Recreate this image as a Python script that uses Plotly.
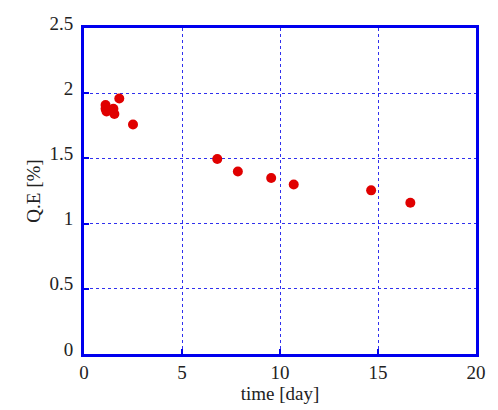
import plotly.graph_objects as go

time_day = [1.1, 1.1, 1.15, 1.5, 1.55, 1.8, 2.5, 6.8, 7.85, 9.55, 10.7, 14.65, 16.65]
qe_pct = [1.91, 1.88, 1.86, 1.88, 1.84, 1.96, 1.76, 1.495, 1.40, 1.35, 1.30, 1.255, 1.16]

x_ticks = [0, 5, 10, 15, 20]
y_ticks = [0, 0.5, 1, 1.5, 2, 2.5]

fig = go.Figure()
fig.add_trace(go.Scatter(
    x=time_day, y=qe_pct, mode="markers",
    marker=dict(color="#e00000", size=10, symbol="circle", line=dict(width=0)),
    showlegend=False,
))

font = dict(family="Liberation Serif, Times New Roman, serif", size=19, color="#222")
axis_common = dict(
    showline=True, linecolor="#0000ee", linewidth=3, mirror=True,
    showgrid=True, gridcolor="#3030ee", griddash="dot", gridwidth=1.3,
    ticks="inside", ticklen=5, tickcolor="#0000ee", tickwidth=2,
    zeroline=False, tickfont=font,
)
fig.update_xaxes(range=[0, 20], tickvals=x_ticks, ticktext=[str(v) for v in x_ticks],
                 ticklabelstandoff=-1,
                 title=dict(text="time [day]", font=font, standoff=2), **axis_common)
fig.update_yaxes(range=[0, 2.5], tickvals=y_ticks, ticktext=[f"{v:g}" for v in y_ticks],
                 ticklabelshift=-5, ticklabelstandoff=4,
                 title=dict(text="Q.E [%]", font=font, standoff=4), **axis_common)

fig.update_layout(
    width=498, height=410,
    margin=dict(l=84, r=17, t=28, b=42, pad=0),
    plot_bgcolor="white", paper_bgcolor="white",
    font=font,
)
fig.write_html("out.html", config={"displayModeBar": False},
               post_script="document.body.style.margin='0';document.body.style.overflow='hidden';")
